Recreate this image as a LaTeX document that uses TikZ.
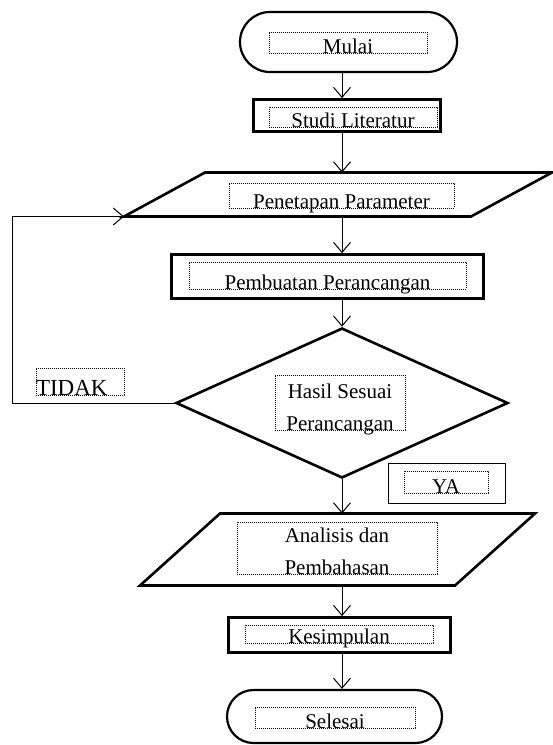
\documentclass[tikz,border=0pt]{standalone}
\usepackage{fontspec}
\setmainfont{Liberation Serif}
\usetikzlibrary{shapes.geometric,shapes.misc,arrows.meta}

\tikzset{
  proc/.style={draw, line width=2.8pt, rectangle, inner sep=0pt},
  term/.style={draw, line width=2.2pt, rounded rectangle, inner sep=0pt},
  io/.style={rectangle, inner sep=0pt, outer sep=0pt},
  ioline/.style={line width=2.6pt, line join=miter},
  decide/.style={draw, line width=2.6pt, diamond, inner sep=0pt},
  frame/.style={draw, line width=1.4pt, rectangle, inner sep=0pt},
  txtbox/.style={draw, dash pattern=on 0.8pt off 1.2pt, line width=0.8pt, inner sep=0pt,
    align=center, text depth=0pt, font=\fontsize{21pt}{32pt}\selectfont},
  flow/.style={line width=1pt, -{Straight Barb[length=10pt,width=17pt]}}
}

\begin{document}
\begin{tikzpicture}[x=1pt,y=-1pt]
\useasboundingbox (0,0) rectangle (553,745);

\node (mulai) [term, minimum width=217pt, minimum height=60pt] at (348.5,42) {};
\node (studi) [proc, minimum width=187pt, minimum height=32pt] at (347,115.5) {};
\node (penetapan) [io, minimum width=428pt, minimum height=44pt] at (338,194.5) {};
\draw [ioline] (penetapan.south west) -- ([xshift=81pt]penetapan.north west)
  -- (penetapan.north east) -- ([xshift=-81pt]penetapan.south east) -- cycle;
\node (pembuatan) [proc, minimum width=312pt, minimum height=44pt] at (327.5,276.5) {};
\node (hasil) [decide, minimum width=332pt, minimum height=150pt] at (342,403) {};
\node (ya) [frame, minimum width=117pt, minimum height=40pt] at (447,483.5) {};
\node (analisis) [io, minimum width=395pt, minimum height=72pt] at (337.5,549.5) {};
\draw [ioline] (analisis.south west) -- ([xshift=80pt]analisis.north west)
  -- (analisis.north east) -- ([xshift=-80pt]analisis.south east) -- cycle;
\node (kesimpulan) [proc, minimum width=222pt, minimum height=35pt] at (339.5,635) {};
\node (selesai) [term, minimum width=215pt, minimum height=53pt] at (334.5,716.5) {};

\node (mulaibox) [txtbox, minimum width=158pt, text height=21pt] at (348,42.5) {Mulai};
\node (studibox) [txtbox, minimum width=168pt, text height=20pt] at (353,117) {Studi Literatur};
\node (penetapanbox) [txtbox, minimum width=225pt, text height=25pt] at (341.5,195.5) {Penetapan Parameter};
\node (pembuatanbox) [txtbox, minimum width=277pt, text height=27pt] at (327.5,275.5) {Pembuatan Perancangan};
\node (hasilbox) [txtbox, minimum width=130pt, text height=55pt] at (340,402.5) {Hasil Sesuai\\Perancangan};
\node (tidakbox) [txtbox, text width=88pt, align=left, text height=27pt,
  font=\fontsize{23pt}{32pt}\selectfont] at (80,381.5) {TIDAK};
\node (yabox) [txtbox, minimum width=84pt, text height=22pt] at (446,482) {YA};
\node (analisisbox) [txtbox, minimum width=200pt, text height=52pt] at (337,548) {Analisis dan\\Pembahasan};
\node (kesimpulanbox) [txtbox, minimum width=188pt, text height=18pt] at (339,634) {Kesimpulan};
\node (selesaibox) [txtbox, minimum width=160pt, text height=21pt] at (335,717.5) {Selesai};

\coordinate (axis) at (342,0);
\coordinate (back) at (12,0);
\draw [flow] (axis |- mulai.south) -- (axis |- studi.north);
\draw [flow] (axis |- studi.south) -- (axis |- penetapan.north);
\draw [flow] (axis |- penetapan.south) -- (axis |- pembuatan.north);
\draw [flow] (axis |- pembuatan.south) -- (hasil.north);
\draw [flow] (hasil.south) -- (axis |- analisis.north);
\draw [flow] (axis |- analisis.south) -- (axis |- kesimpulan.north);
\draw [flow] (axis |- kesimpulan.south) -- (axis |- selesai.north);
\draw [flow] (hasil.west) -- (back |- hasil.west) -- (back |- penetapan.south west) -- (penetapan.south west);
\end{tikzpicture}
\end{document}
